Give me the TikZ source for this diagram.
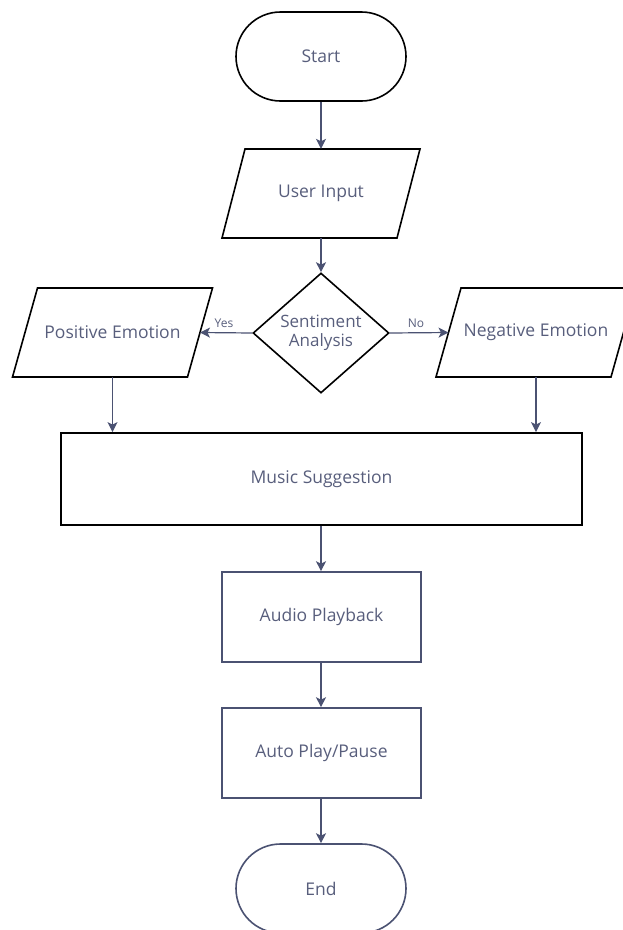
\documentclass[tikz,border=0pt]{standalone}
\usepackage{fontspec}
\setmainfont{Open Sans}
\usetikzlibrary{shapes.geometric,arrows.meta,calc}
\definecolor{slate}{HTML}{4B5272}
\definecolor{txtc}{HTML}{585E7C}
\tikzset{
  every node/.style={font=\fontsize{17.5}{21}\selectfont, text=txtc, inner sep=0pt},
  term/.style={draw=black, line width=1.6pt, rounded corners=44.5pt, minimum width=170pt, minimum height=89pt, fill=white},
  termend/.style={term, draw=slate},
  iotext/.style={minimum width=150pt, minimum height=89pt},
  ioline/.style={draw=black, line width=1.6pt, line join=miter},
  decision/.style={diamond, draw=black, line width=1.6pt, minimum width=136pt, minimum height=120pt, align=center, font=\fontsize{17}{19.5}\selectfont},
  bigbox/.style={draw=black, line width=1.8pt, minimum width=521pt, minimum height=92pt},
  procbox/.style={draw=slate, line width=1.6pt, minimum width=199pt, minimum height=90pt},
  conn/.style={draw=slate, line width=1.2pt, -{Stealth[length=10pt,width=10pt,inset=2.5pt]}},
  lbl/.style={font=\fontsize{12}{14}\selectfont, text=txtc}
}
\begin{document}
\begin{tikzpicture}[x=1pt,y=-1pt]
\useasboundingbox (0,0) rectangle (622,930);
\node[term] (start) at (321,56.5) {Start};
% User Input parallelogram
\node[iotext] (user) at (321,193.5) {User Input};
\draw[ioline] ($(user.center)+(-76,-44.5)$) -- ($(user.center)+(99,-44.5)$) -- ($(user.center)+(76,44.5)$) -- ($(user.center)+(-99,44.5)$) -- cycle;
\node[decision] (dec) at (321,333) {Sentiment\\Analysis};
% Positive
\node[iotext] (pos) at (112.5,332.5) {Positive Emotion};
\draw[ioline] ($(pos.center)+(-75,-44.5)$) -- ($(pos.center)+(100,-44.5)$) -- ($(pos.center)+(75,44.5)$) -- ($(pos.center)+(-100,44.5)$) -- cycle;
\coordinate (pose) at ($(pos.center)+(87.5,0)$);
% Negative
\node[iotext] (neg) at (536,332.5) {Negative Emotion};
\draw[ioline] ($(neg.center)+(-75,-44.5)$) -- ($(neg.center)+(100,-44.5)$) -- ($(neg.center)+(75,44.5)$) -- ($(neg.center)+(-100,44.5)$) -- cycle;
\coordinate (negw) at ($(neg.center)+(-87.5,0)$);
\node[bigbox] (music) at (321.5,479) {Music Suggestion};
\node[procbox] (audio) at (321.5,617) {Audio Playback};
\node[procbox] (auto) at (321.5,753) {Auto Play/Pause};
\node[termend] (end) at (321,888.5) {End};
\node[lbl] (yes) at (224,323) {Yes};
\node[lbl] (no) at (416,323) {No};
\draw[conn] (start.south) -- (start.south |- user.north);
\draw[conn] (user.center |- user.south) -- (dec.north);
\draw[conn] (dec.west) -- (pose);
\draw[conn] (dec.east) -- (negw);
\draw[conn] (pos.center |- pos.south) -- (pos.center |- music.north);
\draw[conn] (neg.center |- neg.south) -- (neg.center |- music.north);
\draw[conn] (music.south -| dec.center) -- (dec.center |- audio.north);
\draw[conn] (audio.south -| dec.center) -- (dec.center |- auto.north);
\draw[conn] (auto.south -| dec.center) -- (dec.center |- end.north);
\end{tikzpicture}
\end{document}
